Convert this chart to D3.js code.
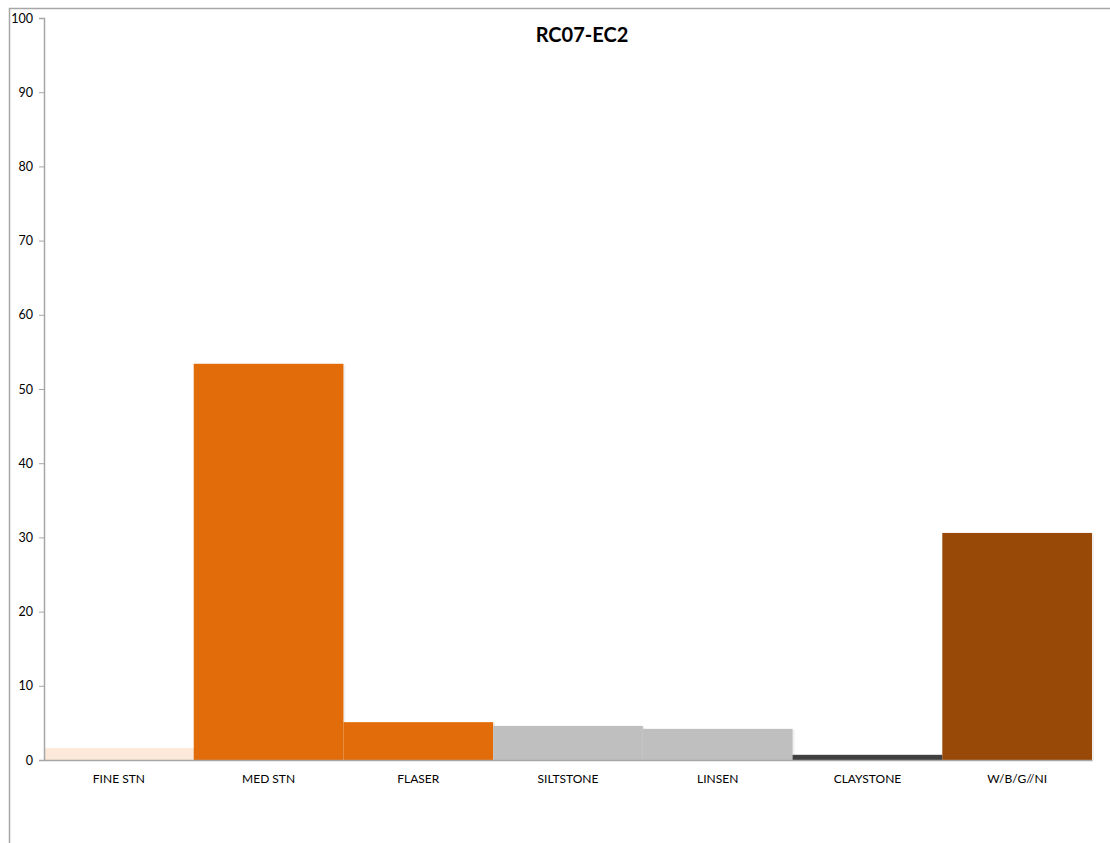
<!DOCTYPE html>
<html><head><meta charset="utf-8">
<script src="https://cdn.jsdelivr.net/npm/d3@7"></script>
<style>body{margin:0;background:#fff;}svg{display:block;font-family:Lato,"Open Sans",sans-serif;}</style>
</head><body>
<svg id="c" width="1110" height="843"></svg>
<script>
const categories = ["FINE STN","MED STN","FLASER","SILTSTONE","LINSEN","CLAYSTONE","W/B/G//NI"];
const values = [1.6, 53.4, 5.1, 4.6, 4.2, 0.7, 30.6];
const colors = ["#fde9d9","#e36c0a","#e36c0a","#bfbfbf","#bfbfbf","#404040","#984807"];
const yTicks = [0,10,20,30,40,50,60,70,80,90,100];
const title = "RC07-EC2";

const svg = d3.select("#c");
// outer frame
svg.append("line").attr("x1",9).attr("x2",1110).attr("y1",8.5).attr("y2",8.5).attr("stroke","#a6a6a6").attr("stroke-width",1.5);
svg.append("line").attr("x1",9.5).attr("x2",9.5).attr("y1",8).attr("y2",843).attr("stroke","#a6a6a6").attr("stroke-width",1.5);

const x = d3.scaleBand().domain(categories).range([44,1092]).padding(0);
const y = d3.scaleLinear().domain([0,100]).range([760,18]);

// shadows
svg.append("g").selectAll("rect").data(categories).join("rect")
  .attr("x", d=>x(d)+2).attr("y", (d,i)=>y(values[i])+1)
  .attr("width", x.bandwidth()).attr("height",(d,i)=>y(0)-y(values[i])-1)
  .attr("fill","#000").attr("opacity",0.06);
svg.append("g").selectAll("rect").data(categories).join("rect")
  .attr("x", d=>x(d)).attr("y", (d,i)=>y(values[i]))
  .attr("width", x.bandwidth()).attr("height",(d,i)=>y(0)-y(values[i]))
  .attr("fill",(d,i)=>colors[i]);

const ya = svg.append("g").attr("transform","translate(44,0)")
  .call(d3.axisLeft(y).tickValues(yTicks).tickSize(5).tickPadding(6).tickFormat(d3.format("d")));
ya.select(".domain").attr("stroke","#a6a6a6").attr("stroke-width",1.5);
ya.selectAll(".tick line").attr("stroke","#a6a6a6");
ya.selectAll("text").attr("font-size",12.5).attr("fill","#000").attr("font-family","Lato,'Open Sans',sans-serif");

const xa = svg.append("g").attr("transform","translate(0,760)")
  .call(d3.axisBottom(x).tickSize(0).tickPadding(14));
xa.select(".domain").attr("stroke","#a6a6a6").attr("stroke-width",1.5);
xa.selectAll("text").attr("font-size",12).attr("fill","#000").attr("font-family","Lato,'Open Sans',sans-serif");

svg.append("text").attr("x",582).attr("y",42).attr("text-anchor","middle")
  .attr("font-size",20).attr("font-weight","bold").text(title);
</script>
</body></html>
